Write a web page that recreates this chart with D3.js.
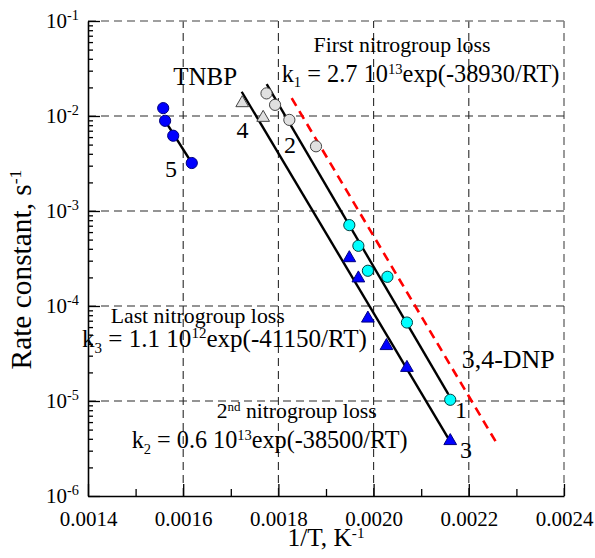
<!DOCTYPE html>
<html>
<head>
<meta charset="utf-8">
<script src="https://cdn.jsdelivr.net/npm/d3@7/dist/d3.min.js"></script>
<style>
  body { margin: 0; background: #fff; }
  text { font-family: "Liberation Serif", "Times New Roman", serif; fill: #000; white-space: pre; }
  .grid-line { stroke: #2a2a2a; stroke-width: 1.1; stroke-dasharray: 8, 5; }
  .grid-line.edge { stroke: #808080; stroke-width: 1.6; }
  .fit-line { stroke: #000; stroke-width: 2.4; fill: none; }
  .fit-red { stroke: #ff0000; stroke-width: 2.6; fill: none; stroke-dasharray: 9, 6; }
</style>
</head>
<body>
<div id="wrapper"></div>
<script>

// 1. Data

const xTicks = [0.0014, 0.0016, 0.0018, 0.0020, 0.0022, 0.0024];
const xMinorTicks = [0.0015, 0.0017, 0.0019, 0.0021, 0.0023];
const yTicks = [1e-6, 1e-5, 1e-4, 1e-3, 1e-2, 1e-1];

// 5 - TNBP
const tnbpInvT = [0.001558, 0.001562, 0.001579, 0.001618];
const tnbpK = [0.0121, 0.0089, 0.0062, 0.0032];
// 4 - grey triangles
const nitro4InvT = [0.001724, 0.001768];
const nitro4K = [0.0137, 0.0096];
// 2 - grey circles
const nitro2InvT = [0.001775, 0.001793, 0.001823, 0.001879];
const nitro2K = [0.0173, 0.0131, 0.0091, 0.0048];
// 1 - cyan circles (3,4-DNP)
const nitro1InvT = [0.001949, 0.001968, 0.001988, 0.002029, 0.002070, 0.002161];
const nitro1K = [7.1e-4, 4.3e-4, 2.35e-4, 2.03e-4, 6.7e-5, 1.03e-5];
// 3 - blue triangles
const nitro3InvT = [0.001949, 0.001968, 0.001988, 0.002027, 0.002070, 0.002161];
const nitro3K = [3.2e-4, 1.96e-4, 7.4e-5, 3.8e-5, 2.24e-5, 3.8e-6];

// fitted lines (end points)
const fit12InvT = [0.0017754, 0.0021569];
const fit12K = [0.0216, 1.18e-5];
const fit34InvT = [0.0017229, 0.0021563];
const fit34K = [0.0180, 4.1e-6];
const fit5InvT = [0.001562, 0.001618];
const fit5K = [0.0089, 0.0032];
const firstLossInvT = [0.0018279, 0.0022571];
const firstLossK = [0.0154, 3.7e-6];

const zip = (xs, ys) => xs.map((x, i) => [x, ys[i]]);

function drawChart() {

  // 2. Dimensions

  let dimensions = {
    width: 595,
    height: 558,
    margin: { top: 21, right: 31, bottom: 62, left: 88 },
  };
  dimensions.boundedWidth = dimensions.width - dimensions.margin.left - dimensions.margin.right;
  dimensions.boundedHeight = dimensions.height - dimensions.margin.top - dimensions.margin.bottom;

  // 3. Canvas

  const svg = d3.select("#wrapper")
    .append("svg")
    .attr("width", dimensions.width)
    .attr("height", dimensions.height);

  // 4. Scales

  const xScale = d3.scaleLinear()
    .domain([0.0014, 0.0024])
    .range([dimensions.margin.left, dimensions.margin.left + dimensions.boundedWidth]);

  const yScale = d3.scaleLog()
    .domain([1e-6, 1e-1])
    .range([dimensions.margin.top + dimensions.boundedHeight, dimensions.margin.top]);

  const [xLeft, xRight] = xScale.range();
  const [yBottom, yTop] = yScale.range();

  // 5. Grid

  const grid = svg.append("g");
  xTicks.slice(1).forEach((d, i, arr) => {
    grid.append("line")
      .attr("class", i === arr.length - 1 ? "grid-line edge" : "grid-line")
      .attr("x1", xScale(d)).attr("x2", xScale(d))
      .attr("y1", yBottom).attr("y2", yTop);
  });
  yTicks.slice(1).forEach((d, i, arr) => {
    grid.append("line")
      .attr("class", i === arr.length - 1 ? "grid-line edge" : "grid-line")
      .attr("x1", xLeft).attr("x2", xRight)
      .attr("y1", yScale(d)).attr("y2", yScale(d));
  });

  // 6. Axes (ticks point inwards)

  const yMinorTicks = [];
  yTicks.slice(0, -1).forEach(decade => {
    d3.range(2, 10).forEach(m => yMinorTicks.push(m * decade));
  });

  svg.append("g")
    .attr("transform", `translate(${xLeft},0)`)
    .call(d3.axisLeft(yScale).tickValues(yMinorTicks).tickSizeInner(-5).tickSizeOuter(0).tickFormat(""))
    .call(g => g.select(".domain").remove())
    .call(g => g.selectAll("text").remove());

  svg.append("g")
    .attr("transform", `translate(0,${yBottom})`)
    .call(d3.axisBottom(xScale).tickValues(xMinorTicks).tickSizeInner(-7).tickSizeOuter(0).tickFormat(""))
    .call(g => g.select(".domain").remove())
    .call(g => g.selectAll("text").remove());

  const yAxis = svg.append("g")
    .attr("transform", `translate(${xLeft},0)`)
    .call(d3.axisLeft(yScale)
      .tickValues(yTicks)
      .tickSizeInner(-12)
      .tickSizeOuter(0)
      .tickPadding(9)
      .tickFormat(""));
  yAxis.selectAll(".tick text").each(function (d) {
    const t = d3.select(this);
    t.append("tspan").text("10");
    t.append("tspan")
      .attr("dy", "-0.55em")
      .style("font-size", "0.68em")
      .text(Math.round(Math.log10(d)));
  });

  const xAxis = svg.append("g")
    .attr("transform", `translate(0,${yBottom})`)
    .call(d3.axisBottom(xScale)
      .tickValues(xTicks)
      .tickSizeInner(-12)
      .tickSizeOuter(0)
      .tickPadding(15)
      .tickFormat(d3.format(".4f")));

  svg.selectAll(".domain").attr("stroke", "#000").attr("stroke-width", 1.6);
  svg.selectAll(".tick line").attr("stroke", "#000").attr("stroke-width", 1.3);
  [xAxis, yAxis].forEach(a => a.attr("font-size", null).attr("font-family", null)
    .selectAll(".tick text").style("font-size", "21px").attr("fill", "#000"));

  // 7. Fit lines

  const lineGen = d3.line()
    .x(d => xScale(d[0]))
    .y(d => yScale(d[1]));

  const lines = svg.append("g");
  lines.append("path").attr("class", "fit-red").attr("d", lineGen(zip(firstLossInvT, firstLossK)));
  lines.append("path").attr("class", "fit-line").attr("d", lineGen(zip(fit12InvT, fit12K)));
  lines.append("path").attr("class", "fit-line").attr("d", lineGen(zip(fit34InvT, fit34K)));
  lines.append("path").attr("class", "fit-line").attr("d", lineGen(zip(fit5InvT, fit5K)));

  // 8. Points

  const series = [
    { invT: tnbpInvT, k: tnbpK, shape: "circle", fill: "#0000ff", stroke: "#000080" },
    { invT: nitro4InvT, k: nitro4K, shape: "triangle", fill: "#e0e0e0", stroke: "#444" },
    { invT: nitro2InvT, k: nitro2K, shape: "circle", fill: "#e0e0e0", stroke: "#444" },
    { invT: nitro1InvT, k: nitro1K, shape: "circle", fill: "#00ffff", stroke: "#004040" },
    { invT: nitro3InvT, k: nitro3K, shape: "triangle", fill: "#0000ff", stroke: "#000080" },
  ];

  const triangle = d3.symbol().type(d3.symbolTriangle).size(70);
  const points = svg.append("g");
  series.forEach(s => {
    const pts = zip(s.invT, s.k);
    if (s.shape === "circle") {
      points.append("g").selectAll("circle")
        .data(pts)
        .join("circle")
        .attr("cx", d => xScale(d[0]))
        .attr("cy", d => yScale(d[1]))
        .attr("r", 5.6)
        .attr("fill", s.fill)
        .attr("stroke", s.stroke)
        .attr("stroke-width", 1);
    } else {
      points.append("g").selectAll("path")
        .data(pts)
        .join("path")
        .attr("d", triangle)
        .attr("transform", d => `translate(${xScale(d[0])},${yScale(d[1])})`)
        .attr("fill", s.fill)
        .attr("stroke", s.stroke)
        .attr("stroke-width", 1);
    }
  });

  // 9. Labels

  // parts: [text, "sup" | "sub" | undefined]; shifts are in em of the parent text
  function richText(parent, parts, opts) {
    const t = parent.append("text")
      .attr("x", opts.x)
      .attr("y", opts.y)
      .attr("text-anchor", opts.anchor || "start")
      .style("font-size", opts.size + "px");
    let shift = 0;
    parts.forEach(([str, kind]) => {
      const rel = kind ? 0.6 : 1;
      const target = kind === "sup" ? -0.33 : kind === "sub" ? 0.24 : 0;
      t.append("tspan")
        .attr("dy", ((target - shift) / rel) + "em")
        .style("font-size", rel + "em")
        .text(str);
      shift = target;
    });
    if (opts.width) {
      const w = t.node().getComputedTextLength();
      t.style("font-size", (opts.size * opts.width / w) + "px");
    }
    return t;
  }

  const notes = svg.append("g");
  const place = (invT, k) => ({ x: xScale(invT), y: yScale(k) });

  richText(notes, [["TNBP"]], { ...place(0.001646, 0.0212), anchor: "middle", size: 25 });
  richText(notes, [["5"]], { ...place(0.0015744, 0.00230), anchor: "middle", size: 24 });
  richText(notes, [["4"]], { ...place(0.0017246, 0.00586), anchor: "middle", size: 24 });
  richText(notes, [["2"]], { ...place(0.0018244, 0.00411), anchor: "middle", size: 24 });
  richText(notes, [["1"]], { ...place(0.0021836, 6.62e-6), anchor: "middle", size: 24 });
  richText(notes, [["3"]], { ...place(0.0021941, 2.49e-6), anchor: "middle", size: 24 });
  richText(notes, [["3,4-DNP"]], { ...place(0.0021851, 2.21e-5), size: 24, width: 93 });

  richText(notes, [["First nitrogroup loss"]],
    { ...place(0.0020597, 0.0475), anchor: "middle", size: 22, width: 177 });
  richText(notes, [["k"], ["1", "sub"], [" = 2.7 10"], ["13", "sup"], ["exp(-38930/RT)"]],
    { ...place(0.0018069, 0.0230), size: 24, width: 278 });

  richText(notes, [["Last nitrogroup loss"]],
    { ...place(0.0014477, 6.58e-5), size: 22, width: 174 });
  richText(notes, [["k"], ["3", "sub"], [" = 1.1 10"], ["12", "sup"], ["exp(-41150/RT)"]],
    { ...place(0.0013874, 3.73e-5), size: 24, width: 285 });

  richText(notes, [["2"], ["nd", "sup"], [" nitrogroup loss"]],
    { ...place(0.0016704, 6.57e-6), size: 22, width: 160 });
  richText(notes, [["k"], ["2", "sub"], [" = 0.6 10"], ["13", "sup"], ["exp(-38500/RT)"]],
    { ...place(0.0014918, 3.18e-6), size: 24, width: 276 });

  // axis titles
  richText(svg, [["1/T, K"], ["-1", "sup"]],
    { x: (xLeft + xRight) / 2, y: dimensions.height - 12, anchor: "middle", size: 24, width: 77 });

  const yTitle = svg.append("g")
    .attr("transform", `translate(31,${(yTop + yBottom) / 2 + 11}) rotate(-90)`);
  richText(yTitle, [["Rate constant, s"], ["-1", "sup"]],
    { x: 0, y: 0, anchor: "middle", size: 26, width: 200 });
}

drawChart();
</script>
</body>
</html>
